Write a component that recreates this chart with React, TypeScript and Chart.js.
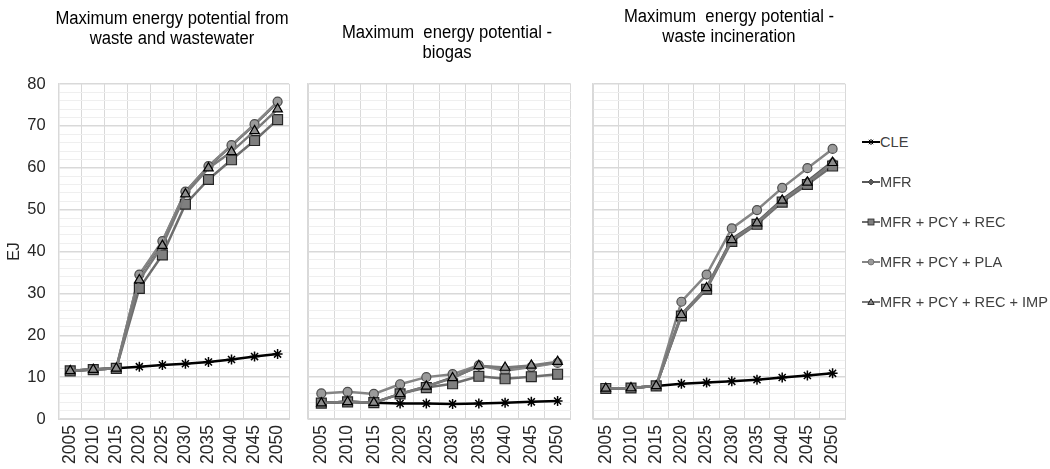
import React, { useEffect, useRef } from 'react';
import { Chart, registerables } from 'chart.js';

Chart.register(...registerables);

// ---------- data ----------
const years = ['2005', '2010', '2015', '2020', '2025', '2030', '2035', '2040', '2045', '2050'];
const seriesNames = ['CLE', 'MFR', 'MFR + PCY + REC', 'MFR + PCY + PLA', 'MFR + PCY + REC + IMP'];
const yTickValues = [0, 10, 20, 30, 40, 50, 60, 70, 80];

const titleWaste = ['Maximum energy potential from', 'waste and wastewater'];
const titleBiogas = ['Maximum  energy potential -', 'biogas'];
const titleIncin = ['Maximum  energy potential -', 'waste incineration'];

// Panel 1: waste and wastewater
const wasteCLE = [11.5, 11.8, 12.1, 12.5, 12.9, 13.2, 13.6, 14.2, 14.9, 15.5];
const wasteMFR = [11.5, 11.8, 12.1, 34.3, 42.3, 54.2, 60.3, 65.3, 70.3, 75.6];
const wasteREC = [11.5, 11.8, 12.1, 31.2, 39.2, 51.3, 57.2, 61.9, 66.5, 71.5];
const wastePLA = [11.5, 11.8, 12.1, 34.5, 42.5, 54.3, 60.4, 65.4, 70.4, 75.8];
const wasteIMP = [11.5, 11.8, 12.1, 33.2, 41.4, 53.7, 59.9, 63.8, 68.8, 74.0];

// Panel 2: biogas
const biogasCLE = [3.8, 4.1, 3.9, 3.7, 3.7, 3.6, 3.7, 3.9, 4.1, 4.3];
const biogasMFR = [3.8, 4.1, 3.9, 6.0, 7.8, 9.9, 12.6, 12.2, 12.6, 13.5];
const biogasREC = [3.8, 4.1, 3.9, 6.0, 7.5, 8.4, 10.2, 9.6, 10.1, 10.7];
const biogasPLA = [6.1, 6.5, 6.0, 8.3, 10.0, 10.7, 12.8, 11.5, 12.4, 13.4];
const biogasIMP = [3.8, 4.1, 3.9, 6.0, 7.8, 9.8, 12.7, 12.3, 12.8, 13.7];

// Panel 3: waste incineration
const incinCLE = [7.3, 7.4, 7.9, 8.4, 8.7, 9.0, 9.4, 9.9, 10.4, 10.9];
const incinMFR = [7.3, 7.4, 7.9, 25.0, 31.4, 43.0, 47.0, 52.4, 56.8, 61.5];
const incinREC = [7.3, 7.4, 7.9, 24.6, 31.0, 42.4, 46.5, 51.8, 56.0, 60.4];
const incinPLA = [7.3, 7.4, 7.9, 28.0, 34.5, 45.5, 49.9, 55.2, 59.9, 64.5];
const incinIMP = [7.3, 7.4, 7.9, 24.9, 31.3, 42.8, 46.8, 52.2, 56.5, 61.2];

// ---------- styles ----------
const seriesStyles = [
  { line: '#000000', fill: '#000000', edge: '#000000', point: 'star', r: 5, order: 4 },
  { line: '#595959', fill: '#595959', edge: '#404040', point: 'rectRot', r: 4, order: 3 },
  { line: '#6e6e6e', fill: '#7f7f7f', edge: '#262626', point: 'rect', r: 7, order: 1 },
  { line: '#858585', fill: '#9a9a9a', edge: '#4d4d4d', point: 'circle', r: 4.5, order: 2 },
  { line: '#7a7a7a', fill: '#8c8c8c', edge: '#000000', point: 'triangle', r: 5.5, order: 0 },
];

const TICK_FONT = "'Liberation Sans', Arial, sans-serif";

type PanelProps = {
  left: number;
  width: number;
  padRight: number;
  yWidth: number;
  showY: boolean;
  series: number[][];
};

function Panel({ left, width, padRight, yWidth, showY, series }: PanelProps) {
  const ref = useRef<HTMLCanvasElement>(null);
  useEffect(() => {
    const chart = new Chart(ref.current as HTMLCanvasElement, {
      type: 'line',
      data: {
        labels: years,
        datasets: series.map((d, i) => {
          const s = seriesStyles[i];
          return {
            label: seriesNames[i],
            data: d,
            order: s.order,
            borderColor: s.line,
            backgroundColor: s.fill,
            borderWidth: 2.5,
            tension: 0,
            pointStyle: s.point as any,
            pointRadius: s.r,
            pointBackgroundColor: s.fill,
            pointBorderColor: s.edge,
            pointBorderWidth: i === 0 ? 1.5 : 1.2,
          };
        }),
      },
      options: {
        animation: false,
        responsive: false,
        maintainAspectRatio: false,
        layout: { padding: { left: 0, right: padRight, top: 84, bottom: 0 } },
        plugins: {
          legend: { display: false },
          title: { display: false },
          tooltip: { enabled: false },
        },
        scales: {
          x: {
            type: 'category',
            offset: true,
            grid: { offset: true, color: '#d9d9d9', lineWidth: 1, drawTicks: false },
            border: { color: '#d9d9d9', width: 1 },
            ticks: {
              autoSkip: false,
              minRotation: 90,
              maxRotation: 90,
              padding: 6,
              color: '#262626',
              font: { family: TICK_FONT, size: 17.5 },
            },
            afterFit: (s: any) => {
              s.height = 50;
            },
          },
          y: {
            min: 0,
            max: 80,
            ticks: {
              display: showY,
              stepSize: 2,
              autoSkip: false,
              padding: 13,
              color: '#262626',
              font: { family: TICK_FONT, size: 16.5 },
              callback: (v: any) => (yTickValues.includes(Number(v)) ? String(v) : ''),
            },
            grid: {
              drawTicks: false,
              color: (ctx: any) => (ctx.tick && ctx.tick.value % 10 === 0 ? '#d9d9d9' : '#efefef'),
              lineWidth: (ctx: any) => (ctx.tick && ctx.tick.value % 10 === 0 ? 1.5 : 1),
            },
            border: { color: '#d9d9d9', width: 1.5 },
            title: {
              display: showY,
              text: 'EJ',
              color: '#262626',
              font: { family: TICK_FONT, size: 16 },
              padding: { top: 5, bottom: 0 },
            },
            afterFit: (s: any) => {
              s.width = yWidth;
            },
          },
        },
      },
    } as any);
    return () => chart.destroy();
  }, []);
  return (
    <canvas
      ref={ref}
      width={width}
      height={469}
      style={{ position: 'absolute', left, top: 0, width, height: 469 }}
    />
  );
}

function Title({ lines, center, top }: { lines: string[]; center: number; top: number }) {
  return (
    <div
      style={{
        position: 'absolute',
        left: center - 160,
        width: 320,
        top,
        textAlign: 'center',
        fontFamily: TICK_FONT,
        fontSize: 18,
        lineHeight: '20px',
        color: '#000',
        whiteSpace: 'pre',
        transform: 'scaleX(0.925)',
        transformOrigin: 'center',
      }}
    >
      {lines.map((l, i) => (
        <div key={i}>{l}</div>
      ))}
    </div>
  );
}

function LegendSymbol({ idx }: { idx: number }) {
  const s = seriesStyles[idx];
  const cx = 9;
  const cy = 7;
  let marker: React.ReactNode = null;
  if (s.point === 'star') {
    marker = (
      <g stroke={s.edge} strokeWidth={1}>
        <line x1={cx - 3} y1={cy} x2={cx + 3} y2={cy} />
        <line x1={cx} y1={cy - 3} x2={cx} y2={cy + 3} />
        <line x1={cx - 2.2} y1={cy - 2.2} x2={cx + 2.2} y2={cy + 2.2} />
        <line x1={cx - 2.2} y1={cy + 2.2} x2={cx + 2.2} y2={cy - 2.2} />
      </g>
    );
  } else if (s.point === 'rectRot') {
    marker = <polygon points={`${cx},${cy - 3} ${cx + 3},${cy} ${cx},${cy + 3} ${cx - 3},${cy}`} fill={s.fill} stroke={s.edge} strokeWidth={0.8} />;
  } else if (s.point === 'rect') {
    marker = <rect x={cx - 3} y={cy - 3} width={6} height={6} fill={s.fill} stroke={s.edge} strokeWidth={0.8} />;
  } else if (s.point === 'circle') {
    marker = <circle cx={cx} cy={cy} r={3} fill={s.fill} stroke={s.edge} strokeWidth={0.6} />;
  } else {
    marker = <polygon points={`${cx},${cy - 3.2} ${cx + 3.2},${cy + 2.4} ${cx - 3.2},${cy + 2.4}`} fill={s.fill} stroke={s.edge} strokeWidth={0.8} />;
  }
  return (
    <svg width={18} height={14} style={{ display: 'block' }}>
      <line x1={0} y1={cy} x2={18} y2={cy} stroke={s.line} strokeWidth={2} />
      {marker}
    </svg>
  );
}

function Legend() {
  const centers = [142, 182, 222, 262, 302];
  return (
    <>
      {seriesNames.map((n, i) => (
        <div
          key={n}
          style={{
            position: 'absolute',
            left: 862,
            top: centers[i] - 10,
            height: 20,
            display: 'flex',
            alignItems: 'center',
            whiteSpace: 'pre',
            fontFamily: TICK_FONT,
            fontSize: 14.6,
            color: '#404040',
          }}
        >
          <LegendSymbol idx={i} />
          <span>{n}</span>
        </div>
      ))}
    </>
  );
}

export default function App() {
  return (
    <div
      style={{
        position: 'absolute',
        left: 0,
        top: 0,
        width: 1050,
        height: 469,
        overflow: 'hidden',
        background: '#ffffff',
      }}
    >
      <Panel
        left={0}
        width={305}
        padRight={5.7}
        yWidth={58.7}
        showY={true}
        series={[wasteCLE, wasteMFR, wasteREC, wastePLA, wasteIMP]}
      />
      <Panel
        left={300}
        width={285}
        padRight={5}
        yWidth={8}
        showY={false}
        series={[biogasCLE, biogasMFR, biogasREC, biogasPLA, biogasIMP]}
      />
      <Panel
        left={585}
        width={275}
        padRight={8}
        yWidth={5}
        showY={false}
        series={[incinCLE, incinMFR, incinREC, incinPLA, incinIMP]}
      />
      <Title lines={titleWaste} center={172} top={8} />
      <Title lines={titleBiogas} center={447} top={22} />
      <Title lines={titleIncin} center={729} top={6} />
      <Legend />
    </div>
  );
}
